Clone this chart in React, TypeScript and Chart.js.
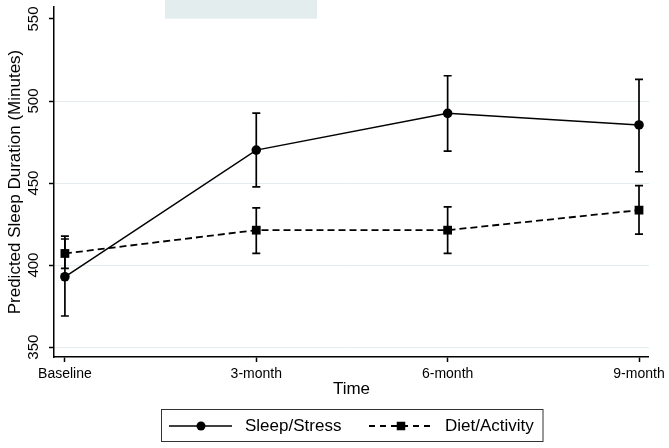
import React, { useEffect, useRef } from "react";
import { Chart, registerables } from "chart.js";

Chart.register(...registerables);

const categories = ["Baseline", "3-month", "6-month", "9-month"];
const seriesLabels = ["Sleep/Stress", "Diet/Activity"];
const sleepStress = [392.9, 470.1, 492.5, 485.4];
const sleepStressLow = [369.0, 447.7, 469.5, 456.9];
const sleepStressHigh = [417.7, 492.6, 515.4, 513.2];
const dietActivity = [407.1, 421.3, 421.3, 433.5];
const dietActivityLow = [398.0, 407.1, 407.1, 418.9];
const dietActivityHigh = [415.9, 434.9, 435.5, 448.4];
const yTicks = [350, 400, 450, 500, 550];
const xTitle = "Time";
const yTitle = "Predicted Sleep Duration (Minutes)";

const FONT = "'Liberation Sans', Arial, Helvetica, sans-serif";

export default function App() {
  const ref = useRef<HTMLCanvasElement | null>(null);

  useEffect(() => {
    if (!ref.current) return;

    const errorBars = [
      { low: sleepStressLow, high: sleepStressHigh },
      { low: dietActivityLow, high: dietActivityHigh },
    ];

    const customPlugin = {
      id: "custom",
      beforeDraw(chart: any) {
        const ctx = chart.ctx;
        ctx.save();
        ctx.fillStyle = "#e3edee";
        ctx.fillRect(165, 0, 152, 18.7);
        ctx.restore();
      },
      afterDatasetsDraw(chart: any) {
        const ctx = chart.ctx;
        const xs = chart.scales.x;
        const ys = chart.scales.y;
        ctx.save();
        ctx.strokeStyle = "#000";
        ctx.lineWidth = 1.7;
        ctx.setLineDash([]);
        errorBars.forEach((eb) => {
          eb.low.forEach((lo, i) => {
            const x = xs.getPixelForValue(i);
            const yl = ys.getPixelForValue(lo);
            const yh = ys.getPixelForValue(eb.high[i]);
            ctx.beginPath();
            ctx.moveTo(x, yl);
            ctx.lineTo(x, yh);
            ctx.moveTo(x - 4, yl);
            ctx.lineTo(x + 4, yl);
            ctx.moveTo(x - 4, yh);
            ctx.lineTo(x + 4, yh);
            ctx.stroke();
          });
        });
        ctx.restore();
      },
      afterDraw(chart: any) {
        const ctx = chart.ctx;
        const ys = chart.scales.y;
        ctx.save();
        // y tick labels (rotated)
        ctx.fillStyle = "#000";
        ctx.font = `15px ${FONT}`;
        ctx.textAlign = "center";
        ctx.textBaseline = "middle";
        yTicks.forEach((v) => {
          const y = ys.getPixelForValue(v);
          ctx.save();
          ctx.translate(34, y);
          ctx.rotate(-Math.PI / 2);
          ctx.fillText(String(v), 0, 0);
          ctx.restore();
        });
        // legend
        ctx.strokeStyle = "#333";
        ctx.lineWidth = 1;
        ctx.strokeRect(161.5, 409.5, 381.5, 32);
        const ly = 426;
        const entries = [
          { x0: 169, x1: 232, mx: 201, tx: 245, dash: [] as number[], style: "circle", lw: 1.5 },
          { x0: 369, x1: 434, mx: 401, tx: 445, dash: [6, 5], style: "rect", lw: 1.8 },
        ];
        entries.forEach((e, i) => {
          ctx.strokeStyle = "#000";
          ctx.lineWidth = e.lw;
          ctx.setLineDash(e.dash);
          ctx.beginPath();
          ctx.moveTo(e.x0, ly);
          ctx.lineTo(e.x1, ly);
          ctx.stroke();
          ctx.setLineDash([]);
          ctx.fillStyle = "#000";
          if (e.style === "circle") {
            ctx.beginPath();
            ctx.arc(e.mx, ly, 4.5, 0, Math.PI * 2);
            ctx.fill();
          } else {
            ctx.fillRect(e.mx - 4.25, ly - 4.25, 8.5, 8.5);
          }
          ctx.font = `17px ${FONT}`;
          ctx.textAlign = "left";
          ctx.textBaseline = "middle";
          ctx.fillText(seriesLabels[i], e.tx, ly);
        });
        ctx.restore();
      },
    };

    const chart = new Chart(ref.current, {
      type: "line",
      data: {
        datasets: [
          {
            label: seriesLabels[0],
            data: sleepStress.map((v, i) => ({ x: i, y: v })),
            borderColor: "#000",
            borderWidth: 1.5,
            pointStyle: "circle",
            pointRadius: 4.8,
            pointBackgroundColor: "#000",
            pointBorderWidth: 0,
            tension: 0,
          },
          {
            label: seriesLabels[1],
            data: dietActivity.map((v, i) => ({ x: i, y: v })),
            borderColor: "#000",
            borderWidth: 1.8,
            borderDash: [7, 4],
            pointStyle: "rect",
            pointRadius: 6.2,
            pointBackgroundColor: "#000",
            pointBorderWidth: 0,
            tension: 0,
          },
        ],
      },
      options: {
        responsive: false,
        animation: false,
        layout: { padding: { top: 7, right: 19, left: 0, bottom: 0 } },
        plugins: {
          legend: { display: false },
          tooltip: { enabled: false },
        },
        scales: {
          x: {
            type: "linear",
            min: -0.057,
            max: 3.052,
            afterBuildTicks: (scale: any) => {
              scale.ticks = categories.map((_, i) => ({ value: i }));
            },
            afterFit: (scale: any) => {
              scale.height = 91;
            },
            ticks: {
              callback: (v: any) => categories[v as number] ?? "",
              font: { family: FONT, size: 14 },
              color: "#000",
              padding: 4,
              maxRotation: 0,
              minRotation: 0,
            },
            grid: {
              drawOnChartArea: false,
              color: "transparent",
              tickColor: "#000",
              tickLength: 5,
              tickWidth: 1.5,
            },
            border: { color: "#000", width: 1.5 },
            title: {
              display: true,
              text: xTitle,
              font: { family: FONT, size: 17 },
              color: "#000",
              padding: { top: 0, bottom: 48 },
            },
          },
          y: {
            type: "linear",
            min: 344,
            max: 557.3,
            afterBuildTicks: (scale: any) => {
              scale.ticks = yTicks.map((v) => ({ value: v }));
            },
            afterFit: (scale: any) => {
              scale.width = 54;
            },
            ticks: { display: false },
            grid: {
              color: (c: any) => (c.tick && c.tick.value === 550 ? "transparent" : "#e3edf0"),
              lineWidth: 1,
              tickColor: "#000",
              tickLength: 5,
              tickWidth: 1.5,
            },
            border: { color: "#000", width: 1.5 },
            title: {
              display: true,
              text: yTitle,
              font: { family: FONT, size: 17 },
              color: "#000",
              padding: { top: 5, bottom: 0 },
            },
          },
        },
      },
      plugins: [customPlugin],
    } as any);

    return () => chart.destroy();
  }, []);

  return (
    <div
      style={{
        position: "fixed",
        left: 0,
        top: 0,
        width: 669,
        height: 448,
        background: "#fff",
      }}
    >
      <canvas ref={ref} width={669} height={448} />
    </div>
  );
}
